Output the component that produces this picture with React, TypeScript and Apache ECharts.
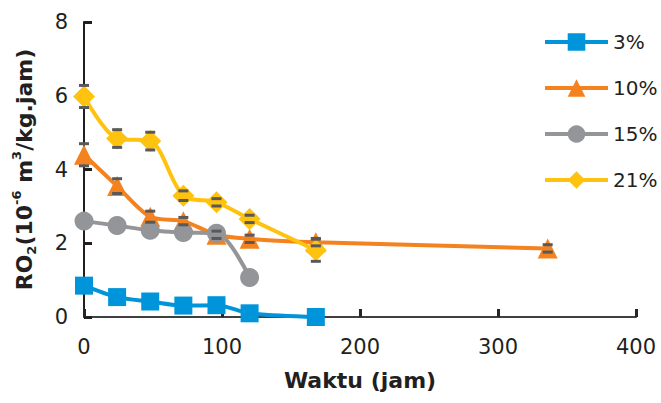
import React, { useEffect, useRef } from "react";
import * as echarts from "echarts";

const xTicks = [0, 100, 200, 300, 400];
const yTicks = [0, 2, 4, 6, 8];
const seriesNames = ["3%", "10%", "15%", "21%"];

const x3 = [0, 24, 48, 72, 96, 120, 168];
const y3 = [0.85, 0.54, 0.42, 0.31, 0.32, 0.1, 0.0];

const x10 = [0, 24, 48, 72, 96, 120, 168, 336];
const y10 = [4.4, 3.55, 2.72, 2.6, 2.23, 2.12, 2.03, 1.86];
const e10 = [0.3, 0.2, 0.15, 0.1, 0.1, 0.1, 0.1, 0.1];

const x15 = [0, 24, 48, 72, 96, 120];
const y15 = [2.6, 2.48, 2.35, 2.29, 2.27, 1.07];

const x21 = [0, 24, 48, 72, 96, 120, 168];
const y21 = [5.98, 4.84, 4.77, 3.29, 3.11, 2.66, 1.81];
const e21 = [0.3, 0.24, 0.24, 0.13, 0.1, 0.1, 0.3];

const colors = ["#0095DA", "#F4821F", "#939598", "#FFC20E"];
const FONT = "DejaVu Sans";
const TEXT = "#231F20";

function pairs(xs: number[], ys: number[]) {
  return xs.map((x, i) => [x, ys[i]]);
}

function lineSeries(name: string, xs: number[], ys: number[], color: string, symbol: string, size: number, z: number) {
  return {
    type: "line",
    name,
    data: pairs(xs, ys),
    smooth: 0.3,
    symbol,
    symbolSize: size,
    showAllSymbol: true,
    z,
    lineStyle: { color, width: 4 },
    itemStyle: { color, borderWidth: 0 },
  };
}

function errSeries(id: string, xs: number[], ys: number[], es: number[], z: number, caps: boolean) {
  return {
    type: "custom",
    name: id,
    silent: true,
    z,
    data: xs.map((x, i) => [x, ys[i], es[i]]),
    encode: { x: 0, y: 1 },
    renderItem: (params: any, api: any) => {
      const x = api.value(0);
      const y = api.value(1);
      const e = api.value(2);
      if (!e) return null;
      const top = api.coord([x, y + e]);
      const bot = api.coord([x, y - e]);
      const children: any[] = [];
      if (caps) {
        children.push({ type: "rect", shape: { x: top[0] - 5, y: top[1] - 1.5, width: 10, height: 3 }, style: { fill: "#595959" } });
        children.push({ type: "rect", shape: { x: bot[0] - 5, y: bot[1] - 1.5, width: 10, height: 3 }, style: { fill: "#595959" } });
      } else {
        children.push({ type: "line", shape: { x1: top[0], y1: top[1], x2: bot[0], y2: bot[1] }, style: { stroke: "#595959", lineWidth: 1.5 } });
      }
      return { type: "group", children };
    },
  };
}

export default function App() {
  const ref = useRef<HTMLDivElement>(null);
  useEffect(() => {
    if (!ref.current) return;
    const chart = echarts.init(ref.current, undefined, { renderer: "svg" });
    chart.setOption({
      animation: false,
      backgroundColor: "#ffffff",
      grid: { left: 84, right: 25, top: 22, bottom: 86, containLabel: false },
      legend: {
        orient: "vertical",
        left: 538,
        top: 26,
        itemWidth: 63,
        itemHeight: 22,
        itemGap: 24,
        data: seriesNames,
        lineStyle: { width: 4 },
        textStyle: { fontFamily: FONT, fontSize: 20, color: TEXT, lineHeight: 22 },
      },
      xAxis: {
        type: "value",
        min: xTicks[0],
        max: xTicks[xTicks.length - 1],
        interval: 100,
        name: "Waktu (jam)",
        nameLocation: "middle",
        nameGap: 52,
        nameTextStyle: { fontFamily: FONT, fontSize: 22, fontWeight: "bold", color: TEXT },
        axisLine: { show: true, lineStyle: { color: "#404040", width: 2 } },
        axisTick: { show: true, inside: true, length: 8, lineStyle: { color: "#262626", width: 3 } },
        axisLabel: { fontFamily: FONT, fontSize: 21, color: TEXT, margin: 19 },
        splitLine: { show: false },
      },
      yAxis: {
        type: "value",
        min: yTicks[0],
        max: yTicks[yTicks.length - 1],
        interval: 2,
        name: "RO{sub|2}(10{sup|-6} m{sup|3}/kg.jam)",
        nameLocation: "middle",
        nameRotate: 90,
        nameGap: 46,
        nameTextStyle: {
          fontFamily: FONT,
          fontSize: 22,
          fontWeight: "bold",
          color: TEXT,
          lineHeight: 28,
          rich: {
            sub: { fontFamily: FONT, fontSize: 13, fontWeight: "bold", color: TEXT, lineHeight: 13, verticalAlign: "bottom" },
            sup: { fontFamily: FONT, fontSize: 13, fontWeight: "bold", color: TEXT, lineHeight: 13, verticalAlign: "top" },
          },
        },
        axisLine: { show: true, lineStyle: { color: "#231F20", width: 2 } },
        axisTick: { show: true, inside: true, length: 8, lineStyle: { color: "#231F20", width: 3 } },
        axisLabel: { fontFamily: FONT, fontSize: 21, color: TEXT, margin: 16 },
        splitLine: { show: false },
      },
      series: [
        errSeries("e10v", x10, y10, e10, 1, false),
        errSeries("e21v", x21, y21, e21, 1, false),
        lineSeries(seriesNames[0], x3, y3, colors[0], "rect", 18, 2),
        lineSeries(seriesNames[1], x10, y10, colors[1], "triangle", 20, 3),
        lineSeries(seriesNames[2], x15, y15, colors[2], "circle", 19, 4),
        lineSeries(seriesNames[3], x21, y21, colors[3], "diamond", 22, 5),
        errSeries("e10c", x10, y10, e10, 6, true),
        errSeries("e21c", x21, y21, e21, 6, true),
      ],
    });
    return () => chart.dispose();
  }, []);
  return <div ref={ref} style={{ position: "absolute", left: 0, top: 0, width: 661, height: 403 }} />;
}
